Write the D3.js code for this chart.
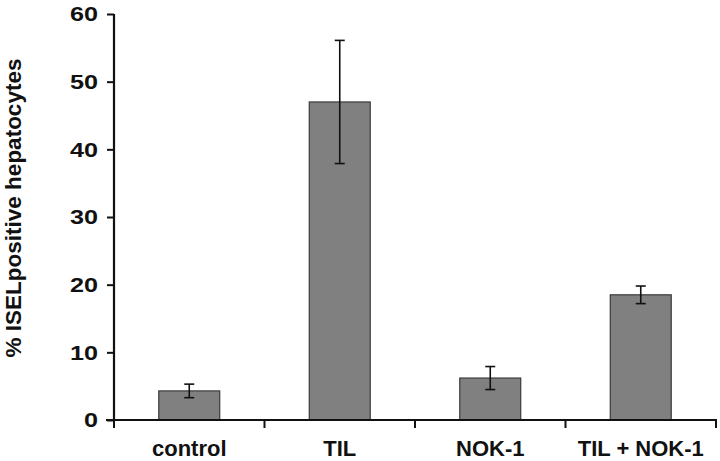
<!DOCTYPE html>
<html><head><meta charset="utf-8">
<script src="https://cdn.jsdelivr.net/npm/d3@7"></script>
<style>body{margin:0;background:#fff}svg{display:block}</style>
</head><body>
<svg id="c" width="720" height="461"></svg>
<script>
const categories = ["control", "TIL", "NOK-1", "TIL + NOK-1"];
const values = [4.3, 47.0, 6.2, 18.5];
const errors = [1.0, 9.1, 1.7, 1.3];
const yTicks = [0, 10, 20, 30, 40, 50, 60];
const yLabel = "% ISELpositive hepatocytes";

const svg = d3.select("#c");
const font = "'Liberation Sans', Arial, sans-serif";
const x = d3.scaleBand().domain(categories).range([114, 716]).paddingInner(0.595).paddingOuter(0.2975);
const y = d3.scaleLinear().domain([0, 60]).range([420, 14]);

// bars
svg.append("g").selectAll("rect").data(categories).join("rect")
  .attr("x", d => x(d)).attr("width", x.bandwidth())
  .attr("y", (d, i) => y(values[i])).attr("height", (d, i) => y(0) - y(values[i]))
  .attr("fill", "#808080").attr("stroke", "#3a3a3a").attr("stroke-width", 1.2);

// error bars
const eg = svg.append("g").attr("stroke", "#111").attr("stroke-width", 1.6);
categories.forEach((c, i) => {
  const cx = x(c) + x.bandwidth() / 2;
  eg.append("line").attr("x1", cx).attr("x2", cx).attr("y1", y(values[i] + errors[i])).attr("y2", y(values[i] - errors[i]));
  [values[i] + errors[i], values[i] - errors[i]].forEach(v => {
    eg.append("line").attr("x1", cx - 5).attr("x2", cx + 5).attr("y1", y(v)).attr("y2", y(v));
  });
});

// y axis
const ya = svg.append("g").attr("transform", "translate(114,0)")
  .call(d3.axisLeft(y).tickValues(yTicks).tickSize(7).tickPadding(9));
ya.select(".domain").attr("stroke", "#111").attr("stroke-width", 2.2).attr("d", "M0," + y(60) + "V" + y(0));
ya.selectAll(".tick line").attr("stroke", "#111").attr("stroke-width", 2);
ya.selectAll(".tick text").attr("font-family", font).attr("font-weight", "bold").attr("font-size", 21).attr("fill", "#111")
  .attr("x", null).attr("transform", "translate(-16,0) scale(1.2,1)");

// x axis
const xEdges = [114].concat(categories.map(c => x(c) + x.bandwidth() + x.step() * x.paddingInner() / 2));
const xa = svg.append("g");
xa.append("line").attr("x1", 106).attr("x2", 717).attr("y1", 420).attr("y2", 420).attr("stroke", "#111").attr("stroke-width", 2.2);
xa.selectAll("line.t").data(xEdges).join("line").attr("class", "t")
  .attr("x1", d => d).attr("x2", d => d).attr("y1", 420).attr("y2", 428)
  .attr("stroke", "#111").attr("stroke-width", 2);
xa.selectAll("text").data(categories).join("text")
  .attr("x", d => x(d) + x.bandwidth() / 2).attr("y", 456)
  .attr("text-anchor", "middle").attr("font-family", font).attr("font-weight", "bold")
  .attr("font-size", 22).attr("fill", "#111").text(d => d);

// y label
svg.append("text").attr("transform", "translate(21,208) rotate(-90)")
  .attr("text-anchor", "middle").attr("font-family", font).attr("font-weight", "bold")
  .attr("font-size", 22.5).attr("fill", "#111").text(yLabel);
</script>
</body></html>
